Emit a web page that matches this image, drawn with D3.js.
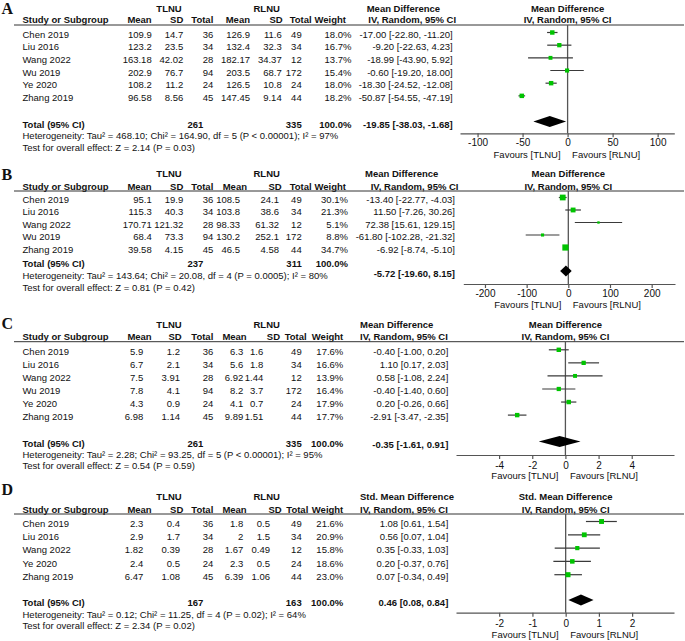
<!DOCTYPE html>
<html><head><meta charset="utf-8">
<script src="https://cdn.jsdelivr.net/npm/d3@7"></script>
<style>
body{margin:0;background:#fff}
svg{display:block}
text{font-family:"Liberation Sans",Arial,sans-serif;fill:#111}
</style>
</head><body><div id="chart"></div>
<script>
// ---------------- DATA ----------------
const panelLetters = ["A","B","C","D"];
const effectTitles = ["Mean Difference","Mean Difference","Mean Difference","Std. Mean Difference"];

const studiesA = ["Chen 2019","Liu 2016","Wang 2022","Wu 2019","Ye 2020","Zhang 2019"];
const tlnuMeanA = [109.9,123.2,163.18,202.9,108.2,96.58];
const tlnuSdA   = [14.7,23.5,42.02,76.7,11.2,8.56];
const tlnuNA    = [36,34,28,94,24,45];
const rlnuMeanA = [126.9,132.4,182.17,203.5,126.5,147.45];
const rlnuSdA   = [11.6,32.3,34.37,68.7,10.8,9.14];
const rlnuNA    = [49,34,12,172,24,44];
const weightA   = [18.0,16.7,13.7,15.4,18.0,18.2];
const effectA   = [-17.00,-9.20,-18.99,-0.60,-18.30,-50.87];
const lowerA    = [-22.80,-22.63,-43.90,-19.20,-24.52,-54.55];
const upperA    = [-11.20,4.23,5.92,18.00,-12.08,-47.19];
const totalA    = [261,335,-19.85,-38.03,-1.68];
const hetA  = "Heterogeneity: Tau² = 468.10; Chi² = 164.90, df = 5 (P < 0.00001); I² = 97%";
const testA = "Test for overall effect: Z = 2.14 (P = 0.03)";
const ticksA = [-100,-50,0,50,100];

const studiesB = ["Chen 2019","Liu 2016","Wang 2022","Wu 2019","Zhang 2019"];
const tlnuMeanB = [95.1,115.3,170.71,68.4,39.58];
const tlnuSdB   = [19.9,40.3,121.32,73.3,4.15];
const tlnuNB    = [36,34,28,94,45];
const rlnuMeanB = [108.5,103.8,98.33,130.2,46.5];
const rlnuSdB   = [24.1,38.6,61.32,252.1,4.58];
const rlnuNB    = [49,34,12,172,44];
const weightB   = [30.1,21.3,5.1,8.8,34.7];
const effectB   = [-13.40,11.50,72.38,-61.80,-6.92];
const lowerB    = [-22.77,-7.26,15.61,-102.28,-8.74];
const upperB    = [-4.03,30.26,129.15,-21.32,-5.10];
const totalB    = [237,311,-5.72,-19.60,8.15];
const hetB  = "Heterogeneity: Tau² = 143.64; Chi² = 20.08, df = 4 (P = 0.0005); I² = 80%";
const testB = "Test for overall effect: Z = 0.81 (P = 0.42)";
const ticksB = [-200,-100,0,100,200];

const studiesC = ["Chen 2019","Liu 2016","Wang 2022","Wu 2019","Ye 2020","Zhang 2019"];
const tlnuMeanC = [5.9,6.7,7.5,7.8,4.3,6.98];
const tlnuSdC   = [1.2,2.1,3.91,4.1,0.9,1.14];
const tlnuNC    = [36,34,28,94,24,45];
const rlnuMeanC = [6.3,5.6,6.92,8.2,4.1,9.89];
const rlnuSdC   = [1.6,1.8,1.44,3.7,0.7,1.51];
const rlnuNC    = [49,34,12,172,24,44];
const weightC   = [17.6,16.6,13.9,16.4,17.9,17.7];
const effectC   = [-0.40,1.10,0.58,-0.40,0.20,-2.91];
const lowerC    = [-1.00,0.17,-1.08,-1.40,-0.26,-3.47];
const upperC    = [0.20,2.03,2.24,0.60,0.66,-2.35];
const totalC    = [261,335,-0.35,-1.61,0.91];
const hetC  = "Heterogeneity: Tau² = 2.28; Chi² = 93.25, df = 5 (P < 0.00001); I² = 95%";
const testC = "Test for overall effect: Z = 0.54 (P = 0.59)";
const ticksC = [-4,-2,0,2,4];

const studiesD = ["Chen 2019","Liu 2016","Wang 2022","Ye 2020","Zhang 2019"];
const tlnuMeanD = [2.3,2.9,1.82,2.4,6.47];
const tlnuSdD   = [0.4,1.7,0.39,0.5,1.08];
const tlnuND    = [36,34,28,24,45];
const rlnuMeanD = [1.8,2,1.67,2.3,6.39];
const rlnuSdD   = [0.5,1.5,0.49,0.5,1.06];
const rlnuND    = [49,34,12,24,44];
const weightD   = [21.6,20.9,15.8,18.6,23.0];
const effectD   = [1.08,0.56,0.35,0.20,0.07];
const lowerD    = [0.61,0.07,-0.33,-0.37,-0.34];
const upperD    = [1.54,1.04,1.03,0.76,0.49];
const totalD    = [167,163,0.46,0.08,0.84];
const hetD  = "Heterogeneity: Tau² = 0.12; Chi² = 11.25, df = 4 (P = 0.02); I² = 64%";
const testD = "Test for overall effect: Z = 2.34 (P = 0.02)";
const ticksD = [-2,-1,0,1,2];

// ---------------- LAYOUT (positions only) ----------------
const layouts = [
  {letterY:13.5, groupY:11.7, headY:23.3, lineY:25, row0:37.7, step:12.67, totY:127.5, totCiY:127.5, hetY:139, testY:150.5,
   axisY:133.3, tickY:146, favY:157.5, x0:460, x1:674.3, dom:[-119.5,118.5],
   val:[151.7,183.3,213.3,250,281.7,301.7,351.5,452.7], hdr:[151.7,183.3,213.3,250,282.7,311.7,346],
   tot:[203.3,301.7,351.5], ciHdr:[366.7,368.3]},
  {letterY:180, groupY:176.7, headY:189.5, lineY:191, row0:202.7, step:12.5, totY:266.5, totCiY:277, hetY:278.5, testY:290.5,
   axisY:284, tickY:296.7, favY:308.3, x0:463.3, x1:675, dom:[-252,256],
   val:[151.7,183.3,213.3,240,279,301.7,348,455], hdr:[151.7,183.3,213.3,247,281.7,311.7,346],
   tot:[203.3,301.7,348], ciHdr:[365,370.7]},
  {letterY:329, groupY:328.3, headY:340, lineY:341.7, row0:355, step:13.06, totY:446.7, totCiY:447.5, hetY:457.7, testY:469.3,
   axisY:455, tickY:469, favY:478.5, x0:456, x1:674, dom:[-6.6,6.55],
   val:[143.3,180,213.3,243.3,263.3,301.7,343.3,448.3], hdr:[151.7,181.7,213.3,246.7,280,306.7,343.3],
   tot:[203.3,301.7,343.3], ciHdr:[360,360]},
  {letterY:495, groupY:500, headY:512.5, lineY:514, row0:526.7, step:13.3, totY:606, totCiY:606, hetY:618, testY:629.3,
   axisY:612.7, tickY:626.7, favY:637.5, x0:456, x1:674, dom:[-3.3,3.26],
   val:[143.3,180,213.3,243.3,270,301.7,343.3,448.3], hdr:[151.7,183.3,213.3,246.7,281.7,308.3,343.3],
   tot:[203.3,301.7,343.3], ciHdr:[360,360]}
];

const panels = [
  {studies:studiesA, cols:[tlnuMeanA,tlnuSdA,tlnuNA,rlnuMeanA,rlnuSdA,rlnuNA], w:weightA, est:effectA, lo:lowerA, hi:upperA, total:totalA, het:hetA, test:testA, ticks:ticksA},
  {studies:studiesB, cols:[tlnuMeanB,tlnuSdB,tlnuNB,rlnuMeanB,rlnuSdB,rlnuNB], w:weightB, est:effectB, lo:lowerB, hi:upperB, total:totalB, het:hetB, test:testB, ticks:ticksB},
  {studies:studiesC, cols:[tlnuMeanC,tlnuSdC,tlnuNC,rlnuMeanC,rlnuSdC,rlnuNC], w:weightC, est:effectC, lo:lowerC, hi:upperC, total:totalC, het:hetC, test:testC, ticks:ticksC},
  {studies:studiesD, cols:[tlnuMeanD,tlnuSdD,tlnuND,rlnuMeanD,rlnuSdD,rlnuND], w:weightD, est:effectD, lo:lowerD, hi:upperD, total:totalD, het:hetD, test:testD, ticks:ticksD}
];

const colHeaders = ["Mean","SD","Total","Mean","SD","Total","Weight"];

// ---------------- DRAW ----------------
const FS = 9.5;
const svg = d3.select("#chart").append("svg").attr("width",685).attr("height",641);

function txt(g, x, y, s, anchor, bold, size){
  return g.append("text").attr("x",x).attr("y",y).attr("text-anchor",anchor||"start")
    .attr("font-weight",bold?"bold":"normal").attr("font-size",(size||FS)+"px").text(s);
}
const fmt2 = v => v.toFixed(2);
const ciStr = (e,l,h) => `${fmt2(e)} [${fmt2(l)}, ${fmt2(h)}]`;

panels.forEach((p, k) => {
  const L = layouts[k];
  const g = svg.append("g");
  const x = d3.scaleLinear().domain(L.dom).range([L.x0, L.x1]);
  const zx = x(0);

  // panel letter
  g.append("text").attr("x",1.5).attr("y",L.letterY)
    .attr("font-weight","bold").attr("font-size","16px")
    .style("font-family","'Liberation Serif','Times New Roman',serif").text(panelLetters[k]);

  // group headers
  txt(g,169,L.groupY,"TLNU","middle",true);
  txt(g,266.7,L.groupY,"RLNU","middle",true);
  txt(g,L.ciHdr[0],L.groupY,effectTitles[k],"start",true);
  txt(g,L.ciHdr[1],L.headY,"IV, Random, 95% CI","start",true);
  txt(g,zx,L.groupY,effectTitles[k],"middle",true);
  txt(g,zx,L.headY,"IV, Random, 95% CI","middle",true);

  // column headers
  txt(g,22.5,L.headY,"Study or Subgroup","start",true);
  colHeaders.forEach((h,i)=> txt(g,L.hdr[i],L.headY,h,"end",true));

  // header rule
  g.append("line").attr("x1",14).attr("x2",684).attr("y1",L.lineY).attr("y2",L.lineY)
    .attr("stroke","#333").attr("stroke-width",1);

  // zero line
  g.append("line").attr("x1",zx).attr("x2",zx).attr("y1",L.lineY).attr("y2",L.axisY)
    .attr("stroke","#555").attr("stroke-width",1.3);

  // study rows
  p.studies.forEach((s,i)=>{
    const y = L.row0 + i*L.step;
    txt(g,22.5,y,s,"start",false);
    p.cols.forEach((col,j)=> txt(g,L.val[j],y,String(col[i]),"end",false));
    txt(g,L.val[6],y,p.w[i].toFixed(1)+"%","end",false);
    txt(g,L.val[7],y,ciStr(p.est[i],p.lo[i],p.hi[i]),"end",false);

    const my = y - 5.2;
    g.append("line").attr("x1",x(p.lo[i])).attr("x2",x(p.hi[i])).attr("y1",my).attr("y2",my)
      .attr("stroke","#3a3a3a").attr("stroke-width",1.2);
    const side = 1.05*Math.sqrt(p.w[i]);
    g.append("rect").attr("x",x(p.est[i])-side/2).attr("y",my-side/2).attr("width",side).attr("height",side)
      .attr("fill","#00c400");
  });

  // total row
  const t = p.total;
  txt(g,22.5,L.totY,"Total (95% CI)","start",true);
  txt(g,L.tot[0],L.totY,String(t[0]),"end",true);
  txt(g,L.tot[1],L.totY,String(t[1]),"end",true);
  txt(g,L.tot[2],L.totY,"100.0%","end",true);
  txt(g,L.val[7],L.totCiY,ciStr(t[2],t[3],t[4]),"end",true);
  const dy = L.totCiY - 6, h = 5.4;
  g.append("path").attr("d",`M${x(t[3])},${dy}L${x(t[2])},${dy-h}L${x(t[4])},${dy}L${x(t[2])},${dy+h}Z`).attr("fill","#000");

  txt(g,22.5,L.hetY,p.het,"start",false);
  txt(g,22.5,L.testY,p.test,"start",false);

  // axis
  const ax = g.append("g").attr("transform",`translate(0,${L.axisY})`)
    .call(d3.axisBottom(x).tickValues(p.ticks).tickSize(4).tickSizeOuter(0).tickFormat(d=>String(d)));
  ax.select(".domain").attr("stroke","#555").attr("stroke-width",1.2);
  ax.selectAll(".tick line").attr("stroke","#555").attr("stroke-width",1.2);
  ax.selectAll(".tick text").attr("y",L.tickY-L.axisY).attr("dy",0).attr("font-size","10px")
    .attr("font-family","'Liberation Sans',Arial,sans-serif").attr("fill","#111");

  txt(g,zx-7,L.favY,"Favours [TLNU]","end",false);
  txt(g,zx+4.5,L.favY,"Favours [RLNU]","start",false);
});
</script>
</body></html>
